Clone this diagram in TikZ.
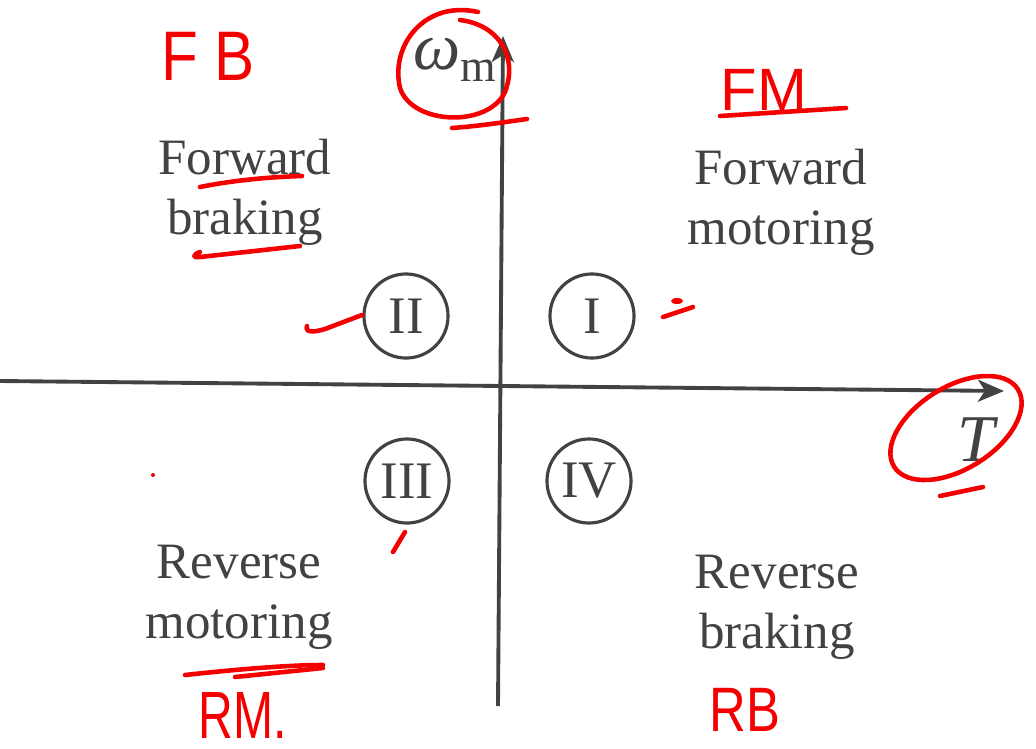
\documentclass[tikz,border=0pt]{standalone}
\usepackage{fontspec}
\setmainfont{Liberation Serif}
\setsansfont{Liberation Sans}
\usetikzlibrary{arrows.meta, positioning}
\definecolor{inkgray}{RGB}{66,66,66}
\definecolor{penred}{RGB}{245,0,0}

\begin{document}
\begin{tikzpicture}[
    x=0.01cm, y=-0.01cm,
    >={Stealth[length=2.6mm, width=2.2mm, inset=0.7mm]},
    axis/.style={draw=inkgray, line width=1.1pt, ->},
    quadlabel/.style={text=inkgray, align=center, font=\fontsize{14.5}{17}\selectfont},
    quadnum/.style={draw=inkgray, circle, line width=0.9pt, minimum size=0.84cm, inner sep=0pt, text=inkgray, font=\fontsize{15}{15}\selectfont},
    redpen/.style={draw=penred, line width=1.3pt, line cap=round, line join=round},
    redtext/.style={text=penred, inner sep=0pt, font=\sffamily\fontsize{19}{19}\selectfont},
]
    \useasboundingbox (0,0) rectangle (1036,748);

    % axes
    \coordinate (xleft) at (0,381);
    \coordinate (xright) at (1004,391);
    \coordinate (ybottom) at (498,706);
    \coordinate (ytop) at (503,36);
    \draw[axis] (xleft) -- (xright);
    \draw[axis] (ybottom) -- (ytop);
    \node[text=inkgray, font=\fontsize{19}{19}\selectfont] (wm) at (455,60) {\textit{ω}\raisebox{-0.4ex}{\fontsize{13}{13}\selectfont m}};
    \node[text=inkgray, font=\fontsize{19}{19}\selectfont\itshape] (torque) at (976,440) {T};

    % quadrants
    \node[quadnum] (q1) at (592,316) {I};
    \node[quadnum] (q2) at (406,316) {II};
    \node[quadnum] (q3) at (407,481) {III};
    \node[quadnum] (q4) at (589,481) {IV};
    \node[quadlabel] (fwdbrake) at (245,192) {Forward\\braking};
    \node[quadlabel] (fwdmotor) at (781,202) {Forward\\motoring};
    \node[quadlabel] (revmotor) at (239,597) {Reverse\\motoring};
    \node[quadlabel] (revbrake) at (777,607) {Reverse\\braking};

    % red pen marks
    \node[redtext] (fb) at (208,56) {\scalebox{0.9}[1.05]{F B}};
    \node[redtext, font=\sffamily\fontsize{17}{17}\selectfont] (fm) at (764,90) {FM};
    \node[redtext] (rm) at (243,716) {\scalebox{0.72}[1]{RM.}};
    \node[redtext, font=\sffamily\fontsize{17}{17}\selectfont] (rb) at (745,710) {\scalebox{0.85}[1.05]{RB}};
    \draw[redpen] (478,12) .. controls (425,0) and (390,45) .. (400,88)
        .. controls (412,125) and (488,128) .. (505,92)
        .. controls (518,58) and (500,25) .. (460,20);
    \draw[redpen] (452,128) .. controls (480,126) and (505,122) .. (527,119);
    \draw[redpen, rotate around={32:(956,428)}] (956,428) ellipse [x radius=73, y radius=41];
    \draw[redpen] (940,496) -- (983,487);
    \draw[redpen] (720,116) -- (846,108);
    \draw[redpen] (200,187) .. controls (235,180) and (270,177) .. (302,176);
    \draw[redpen] (200,252) .. controls (192,255) and (193,258) .. (200,257) -- (300,246);
    \draw[redpen] (307,326) .. controls (305,332) and (312,333) .. (325,329) -- (362,315);
    \draw[redpen] (663,317) -- (693,307);
    \fill[penred] (677,301) ellipse [x radius=6, y radius=3];
    \draw[redpen] (393,552) -- (405,532);
    \fill[penred] (153,475) circle [radius=2];
    \draw[redpen] (185,675) .. controls (240,669) and (290,665) .. (323,665);
    \draw[redpen] (235,677) -- (323,668);
\end{tikzpicture}
\end{document}
